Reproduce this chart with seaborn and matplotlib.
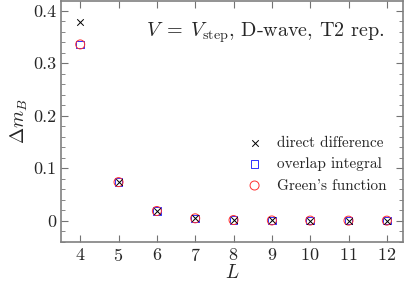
import numpy as np
import pandas as pd
import seaborn as sns
import matplotlib.pyplot as plt

# valores
L = [4, 5, 6, 7, 8, 9, 10, 11, 12]
direct_diff = [0.378, 0.0735, 0.0185, 0.0045, 0.0012, 0.0004, 0.0002, 0.0001, 0.0001]
overlap = [0.336, 0.0735, 0.0185, 0.0045, 0.0012, 0.0004, 0.0002, 0.0001, 0.0001]
green = [0.336, 0.0735, 0.0185, 0.0045, 0.0012, 0.0004, 0.0002, 0.0001, 0.0001]

df = pd.DataFrame({'L': L, 'direct': direct_diff, 'overlap': overlap, 'green': green})

sns.set_style('ticks')
plt.rcParams['font.family'] = 'serif'
plt.rcParams['font.serif'] = ['cmr10']
plt.rcParams['mathtext.fontset'] = 'cm'
plt.rcParams['axes.formatter.use_mathtext'] = True
plt.rcParams['axes.unicode_minus'] = False

fig, ax = plt.subplots(figsize=(4.07, 2.81), dpi=100)

sns.scatterplot(data=df, x='L', y='green', ax=ax, marker='o', s=42,
                facecolor='none', edgecolor='#ff3030', linewidth=0.7,
                label="Green's function", zorder=3)
sns.scatterplot(data=df, x='L', y='overlap', ax=ax, marker='s', s=30,
                facecolor='none', edgecolor='#3030ff', linewidth=0.7,
                label='overlap integral', zorder=2)
sns.scatterplot(data=df, x='L', y='direct', ax=ax, marker='x', s=22,
                color='black', linewidth=0.7,
                label='direct difference', zorder=4)

ax.set_xlim(3.5, 12.42)
ax.set_ylim(-0.04, 0.418)
ax.set_xticks(L)
ax.set_yticks([0, 0.1, 0.2, 0.3, 0.4])
ax.set_yticklabels(['0', '0.1', '0.2', '0.3', '0.4'])
ax.set_yticks(np.arange(-0.04, 0.42, 0.02), minor=True)
ax.tick_params(which='both', direction='in', top=True, right=True,
               color='0.45', labelsize=13)
ax.tick_params(which='major', length=5)
ax.tick_params(which='minor', length=3)
for sp in ax.spines.values():
    sp.set_color('0.5')
    sp.set_linewidth(1.2)

ax.set_xlabel('$L$', fontsize=14, labelpad=0)
ax.set_ylabel(r'$\Delta m_B$', fontsize=14, labelpad=2)
ax.text(0.945, 0.87, r'$V\;=\;V_{\rm step}$, D-wave, T2 rep.', transform=ax.transAxes,
        ha='right', va='center', fontsize=14.5)

h, lab = ax.get_legend_handles_labels()
ax.legend(h[::-1], lab[::-1], loc='lower right', bbox_to_anchor=(0.985, 0.16),
          frameon=False, fontsize=11, handletextpad=0.5, labelspacing=0.5,
          borderpad=0.2)

plt.subplots_adjust(left=0.15, right=0.99, top=0.995, bottom=0.14)
plt.savefig('out.png', dpi=100)
